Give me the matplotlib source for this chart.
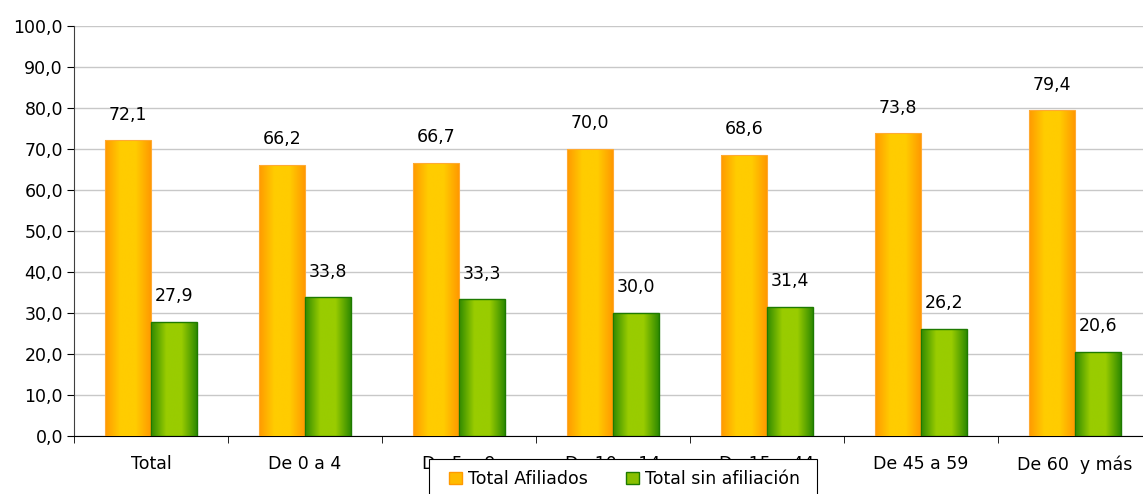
import numpy as np
import matplotlib
matplotlib.use("Agg")
import matplotlib.pyplot as plt
from matplotlib.colors import LinearSegmentedColormap
from matplotlib.patches import Patch, Rectangle

categories = ["Total", "De 0 a 4", "De 5 a 9", "De 10 a 14", "De 15 a 44", "De 45 a 59", "De 60  y más"]
afiliados = [72.1, 66.2, 66.7, 70.0, 68.6, 73.8, 79.4]
sin_afiliacion = [27.9, 33.8, 33.3, 30.0, 31.4, 26.2, 20.6]
series_names = ["Total Afiliados", "Total sin afiliación"]
yticks = np.arange(0, 101, 10)

plt.rcParams["font.family"] = ["DejaVu Sans"]
W, H = 1143, 494
fig = plt.figure(figsize=(W/100, H/100), dpi=100)
ax = fig.add_axes([74/W, 1-436/H, 1078/W, 410/H])

x = np.arange(len(categories))
w = 0.296
orange_cmap = LinearSegmentedColormap.from_list("o", ["#FF9900", "#FFCC00", "#FFCC00", "#FF9900"])
green_cmap = LinearSegmentedColormap.from_list("g", ["#2F8A00", "#99CC00", "#99CC00", "#2F8A00"])

b1 = ax.bar(x - w/2, afiliados, w, color="#FFB300", edgecolor="#FFAA33", linewidth=0.8, zorder=3)
b2 = ax.bar(x + w/2, sin_afiliacion, w, color="#77B000", edgecolor="#1E7A00", linewidth=1.0, zorder=3)

grad = np.linspace(0, 1, 256).reshape(1, -1)
for bars, cmap in ((b1, orange_cmap), (b2, green_cmap)):
    for p in bars:
        x0, y0 = p.get_x(), p.get_y()
        x1, y1 = x0 + p.get_width(), y0 + p.get_height()
        im = ax.imshow(grad, cmap=cmap, extent=[x0, x1, y0, y1], aspect="auto", zorder=3.5)
        im.set_clip_path(p)
        p.set_zorder(4)
        p.set_facecolor("none")

for bars, vals in ((b1, afiliados), (b2, sin_afiliacion)):
    for p, v in zip(bars, vals):
        ax.text(p.get_x() + p.get_width()/2, v + 6.3, f"{v:.1f}".replace(".", ","),
                ha="center", va="center", fontsize=12.5, color="black", zorder=5)

ax.set_xlim(-0.5, len(categories) - 0.5)
ax.set_ylim(0, 100)
ax.set_yticks(yticks)
ax.set_yticklabels([f"{t:.1f}".replace(".", ",") for t in yticks], fontsize=12.5)
ax.set_xticks(x)
ax.set_xticklabels(categories, fontsize=12.5)
ax.set_xticks(np.arange(-0.5, len(categories)), minor=True)
ax.tick_params(axis="x", which="major", length=0, pad=14)
ax.tick_params(axis="x", which="minor", length=5, color="black")
ax.tick_params(axis="y", length=5, color="black", pad=3)
ax.yaxis.grid(True, color="#C8C8C8", linewidth=1.0, zorder=0)
ax.set_axisbelow(True)
for s in ["top", "right"]:
    ax.spines[s].set_visible(False)
ax.spines["left"].set_color("#404040")
ax.spines["bottom"].set_color("black")
ax.autoscale(False)

# legend frame
frame = Rectangle((429/W, -0.05), (817-429)/W, (1-459/H) + 0.05, transform=fig.transFigure,
                  facecolor="white", edgecolor="black", linewidth=0.8, zorder=9)
fig.add_artist(frame)

handles = [Patch(facecolor="#FFBB00", edgecolor="#FF9900"),
           Patch(facecolor="#88C000", edgecolor="#1E7A00")]
leg = fig.legend(handles, series_names, loc="upper left", bbox_to_anchor=(449/W, 1-470/H),
                 ncol=2, frameon=False, fontsize=12.5,
                 handlelength=0.75, handleheight=0.75, handletextpad=0.35, columnspacing=2.2,
                 borderpad=0, borderaxespad=0)
leg.set_zorder(10)

fig.savefig("out.png", dpi=100)
